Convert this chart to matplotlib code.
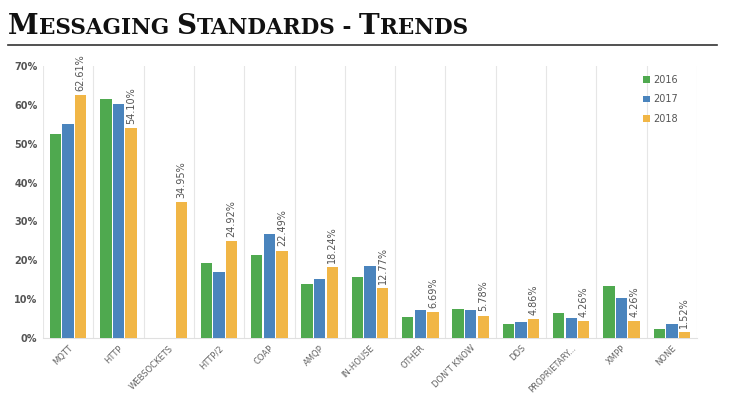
import matplotlib
matplotlib.use("Agg")
import matplotlib.pyplot as plt
import numpy as np

categories = ["MQTT", "HTTP", "WEBSOCKETS", "HTTP/2", "COAP", "AMQP", "IN-HOUSE",
              "OTHER", "DON'T KNOW", "DDS", "PROPRIETARY...", "XMPP", "NONE"]
v2016 = [52.6, 61.5, 0.0, 19.2, 21.4, 14.0, 15.6, 5.3, 7.5, 3.5, 6.4, 13.4, 2.3]
v2017 = [55.0, 60.2, 0.0, 16.9, 26.8, 15.1, 18.6, 7.2, 7.1, 4.0, 5.1, 10.4, 3.7]
v2018 = [62.61, 54.10, 34.95, 24.92, 22.49, 18.24, 12.77, 6.69, 5.78, 4.86, 4.26, 4.26, 1.52]
years = ["2016", "2017", "2018"]
colors = ["#4fa94f", "#4a84bd", "#f1b646"]
yticks = [0, 10, 20, 30, 40, 50, 60, 70]

W, H = 729, 398
fig = plt.figure(figsize=(W / 100, H / 100), dpi=100)
ax = fig.add_axes([43 / W, 1 - 338 / H, (697 - 43) / W, (338 - 66) / H])

x = np.arange(len(categories))
bw = 0.225
for i, (vals, c, yr) in enumerate(zip([v2016, v2017, v2018], colors, years)):
    ax.bar(x + (i - 1) * 0.25, vals, bw, color=c, label=yr, zorder=3)

# value labels above the 2018 bars
for xi, v in zip(x, v2018):
    ax.annotate(f"{v:.2f}%", (xi + 0.25, v), xytext=(0, 3), textcoords="offset points",
                rotation=90, ha="center", va="bottom", fontsize=7, color="#555555")

ax.set_xlim(-0.5, len(categories) - 0.5)
ax.set_ylim(0, 70)
ax.set_yticks(yticks)
ax.set_yticklabels([f"{t}%" for t in yticks], fontsize=7, color="#555555", fontweight="bold")
ax.set_xticks(x)
ax.set_xticklabels(categories, rotation=45, ha="right", rotation_mode="anchor",
                   fontsize=6, color="#666666")
ax.tick_params(length=0, pad=4)
for xv in np.arange(-0.5, len(categories), 1.0):
    ax.axvline(xv, color="#e6e6e6", lw=0.8, zorder=1)
for s in ["top", "right", "left"]:
    ax.spines[s].set_visible(False)
ax.spines["bottom"].set_color("#e0e0e0")

leg = ax.legend(loc="upper right", bbox_to_anchor=(0.985, 1.0), frameon=False,
                fontsize=7, handlelength=0.7, handleheight=0.7, handletextpad=0.4,
                labelspacing=1.0)
for t in leg.get_texts():
    t.set_color("#555555")

# title in small caps, built from runs of large and small letters
runs = [("M", 20), ("ESSAGING", 15.5), (" ", 15.5), ("S", 20), ("TANDARDS", 15.5),
        (" - ", 15.5), ("T", 20), ("RENDS", 15.5)]
renderer = fig.canvas.get_renderer()
px = 8
for txt, size in runs:
    t = fig.text(px / W, 1 - 34 / H, txt, fontsize=size, fontweight="bold",
                 family="DejaVu Serif", color="#111111", va="baseline", ha="left")
    bb = t.get_window_extent(renderer)
    px += bb.width

fig.add_artist(plt.Line2D([8 / W, 717 / W], [1 - 45 / H, 1 - 45 / H], color="#333333", lw=1.2))

fig.savefig("out.png", dpi=100)
